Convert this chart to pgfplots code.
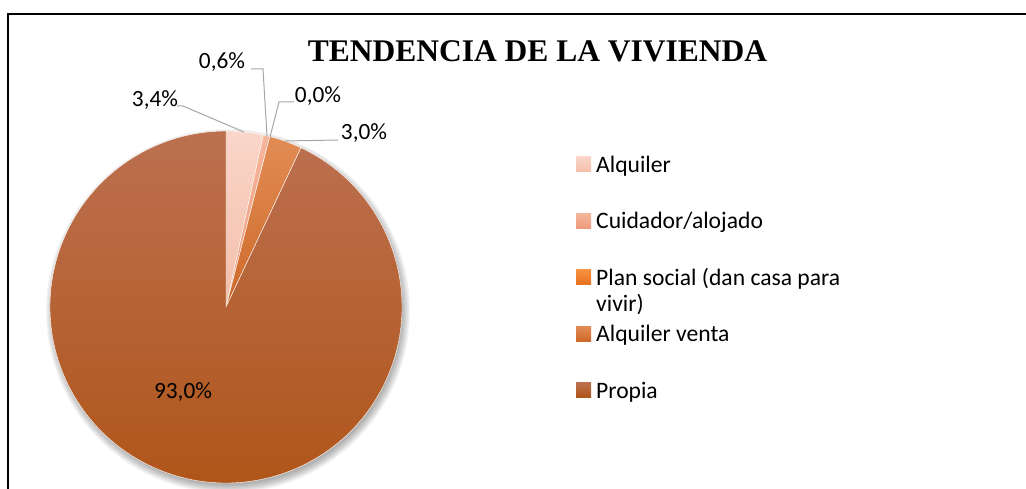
\documentclass[border=0pt]{standalone}
\usepackage{fontspec}
\setmainfont{Carlito}
\newfontfamily\titlefont{Liberation Serif}
\usepackage{pgfplots}
\usepackage{pgfplotstable}
\pgfplotsset{compat=1.18}

\definecolor{alqT}{RGB}{250,214,201}
\definecolor{alqB}{RGB}{243,190,170}
\definecolor{cuiT}{RGB}{246,182,156}
\definecolor{cuiB}{RGB}{236,154,122}
\definecolor{plaT}{RGB}{247,146,64}
\definecolor{plaB}{RGB}{230,112,30}
\definecolor{venT}{RGB}{226,140,85}
\definecolor{venB}{RGB}{205,105,40}
\definecolor{proT}{RGB}{188,112,80}
\definecolor{proB}{RGB}{175,84,22}
\definecolor{leader}{RGB}{166,166,166}

\tikzset{
  sliceA/.style={top color=alqT, bottom color=alqB},
  sliceB/.style={top color=cuiT, bottom color=cuiB},
  sliceC/.style={top color=plaT, bottom color=plaB},
  sliceD/.style={top color=venT, bottom color=venB},
  sliceE/.style={top color=proT, bottom color=proB},
}

% tendencia de la vivienda (%)
\pgfplotstableread[col sep=comma]{
label,value
Alquiler,3.4
Cuidador/alojado,0.6
Plan social,0.0
Alquiler venta,3.0
Propia,93.0
}\vivienda

% start / end angle of each slice, clockwise from 12 o'clock
\def\acc{0}
\def\row{0}
\pgfplotsforeachungrouped \n in {A,B,C,D,E}{%
  \pgfplotstablegetelem{\row}{value}\of\vivienda
  \let\curval\pgfplotsretval
  \pgfmathsetmacro\sa{90-3.6*\acc}%
  \pgfmathsetmacro\acc{\acc+\curval}%
  \pgfmathsetmacro\ea{90-3.6*\acc}%
  \expandafter\xdef\csname sa\n\endcsname{\sa}%
  \expandafter\xdef\csname ea\n\endcsname{\ea}%
  \pgfmathtruncatemacro\row{\row+1}%
}

\pgfplotsset{
  legend image code/.code={\path[#1, draw=none] (0pt,-7.5pt) rectangle (15pt,7.5pt);},
}

\begin{document}
\begin{tikzpicture}
\begin{axis}[
  width=1026pt, height=489pt, scale only axis,
  xmin=0, xmax=1026, ymin=0, ymax=489,
  y dir=reverse,
  hide axis, clip=false,
  legend cell align=left,
  legend style={at={(axis cs:576,152)}, anchor=north west,
    draw=none, fill=none, inner sep=0pt,
    row sep=32.5pt, column sep=5pt,
    font=\fontsize{23.6}{26}\selectfont,
    nodes={inner sep=0pt, text height=20pt, text depth=4pt}},
]
\coordinate (tl) at (axis cs:0,0);
\coordinate (br) at (axis cs:1026,489);
% frame
\draw[line width=2pt] (axis cs:8,489) -- (axis cs:8,14) -- (axis cs:1026,14);

% soft shadow
\pgfplotsinvokeforeach{0,...,9}{
  \fill[black, opacity=0.035] (axis cs:228,311) circle[radius={174pt+#1*0.9pt}];
}
% slices
\pgfplotsinvokeforeach{A,B,C,D,E}{
  \path[slice#1, draw=white, line width=0.4pt] (axis cs:226,307)
    -- ++(\csname sa#1\endcsname:176pt)
    arc[start angle=\csname sa#1\endcsname, end angle=\csname ea#1\endcsname, radius=176pt]
    -- cycle;
}

\addlegendimage{sliceA}
\addlegendimage{sliceB}
\addlegendimage{sliceC}
\addlegendimage{sliceD}
\addlegendimage{sliceE}
\legend{Alquiler, Cuidador/alojado,
  {\begin{tabular}[t]{@{}l@{}}Plan social (dan casa para\\vivir)\end{tabular}},
  Alquiler venta, Propia}

% title
\node[font=\titlefont\bfseries\fontsize{31.5}{36}\selectfont, anchor=base]
  at (axis cs:537.5,62) {TENDENCIA DE LA VIVIENDA};

% leader lines
\draw[leader, line width=1pt] (axis cs:177,106) -- (axis cs:183,106) -- (axis cs:244,132);
\draw[leader, line width=1pt] (axis cs:251,69) -- (axis cs:263,69) -- (axis cs:267,136);
\draw[leader, line width=1pt] (axis cs:294,102) -- (axis cs:279,102) -- (axis cs:270,137);
\draw[leader, line width=1pt] (axis cs:338,140) -- (axis cs:285,141);

% data labels
\begin{scope}[every node/.style={font=\fontsize{23.3}{26}\selectfont, anchor=base}]
\node at (axis cs:155,107) {3,4\%};
\node at (axis cs:222,69) {0,6\%};
\node at (axis cs:318,103) {0,0\%};
\node at (axis cs:364,140) {3,0\%};
\node at (axis cs:183,398) {93,0\%};
\end{scope}
\end{axis}
\pgfresetboundingbox
\path[use as bounding box] (tl) rectangle (br);
\end{tikzpicture}
\end{document}
